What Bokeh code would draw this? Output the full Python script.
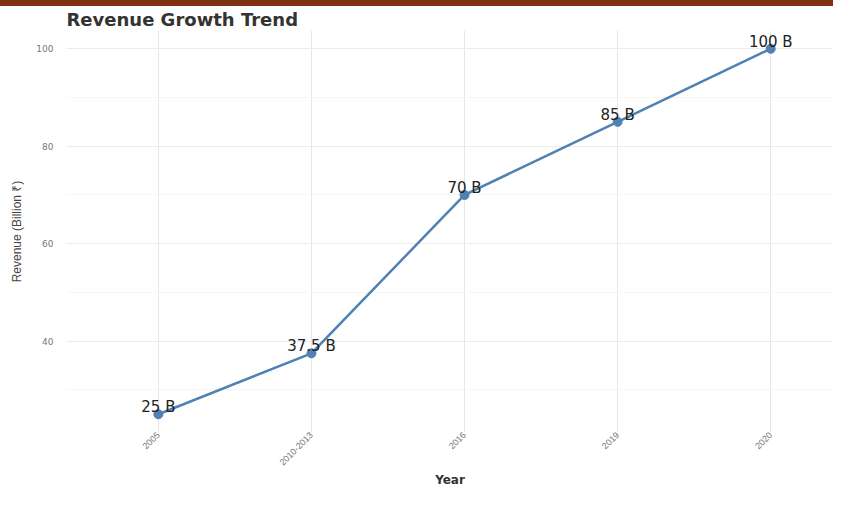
import math
from bokeh.plotting import figure
from bokeh.models import Range1d, FixedTicker, Div, ColumnDataSource
from bokeh.layouts import column
from bokeh.core.properties import value
from bokeh.embed import file_html
from bokeh.resources import INLINE

# ---- data ----
years = ["2005", "2010-2013", "2016", "2019", "2020"]
revenue = [25, 37.5, 70, 85, 100]
labels = ["25 B", "37.5 B", "70 B", "85 B", "100 B"]
y_major = [40, 60, 80, 100]
y_minor = [30, 50, 70, 90]

xs = list(range(len(years)))
src = ColumnDataSource(dict(x=xs, y=revenue, lab=labels))

FONT = "Liberation Sans"
WIDE = "DejaVu Sans"

p = figure(width=833, height=484, output_backend="svg", toolbar_location=None,
           x_range=Range1d(-0.6, 4.41), y_range=Range1d(21.25, 103.75),
           title="Revenue Growth Trend")
p.min_border_left = 66
p.min_border_right = 0
p.min_border_top = 20
p.min_border_bottom = 0
p.outline_line_color = None
p.background_fill_color = "white"
p.border_fill_color = "white"

p.title.text_font = WIDE
p.title.text_font_size = "18px"
p.title.text_font_style = "bold"
p.title.text_color = "#333333"
p.title.align = "left"
p.title.standoff = 1

# grids
p.xgrid.ticker = FixedTicker(ticks=xs)
p.xgrid.grid_line_color = "#e6e6e6"
p.xgrid.grid_line_width = 1
p.ygrid.ticker = FixedTicker(ticks=y_major, minor_ticks=y_minor)
p.ygrid.grid_line_color = "#ebebeb"
p.ygrid.minor_grid_line_color = "#f5f5f5"

# x axis
xa = p.xaxis[0]
xa.ticker = FixedTicker(ticks=xs)
xa.major_label_overrides = {i: y for i, y in enumerate(years)}
xa.major_label_orientation = math.pi / 4
xa.axis_line_color = None
xa.major_tick_line_color = None
xa.minor_tick_line_color = None
xa.major_tick_out = 0
xa.major_label_text_font = FONT
xa.major_label_text_font_size = "9px"
xa.major_label_text_color = "#777777"
xa.major_label_standoff = 1
xa.axis_label = "Year"
xa.axis_label_text_font = WIDE
xa.axis_label_text_font_size = "12px"
xa.axis_label_text_font_style = "bold"
xa.axis_label_text_color = "#333333"
xa.axis_label_text_align = "left"
xa.axis_label_standoff = 2

# y axis
ya = p.yaxis[0]
ya.ticker = FixedTicker(ticks=y_major, minor_ticks=y_minor)
ya.axis_line_color = None
ya.major_tick_line_color = None
ya.minor_tick_line_color = None
ya.major_tick_out = 0
ya.major_label_text_font = WIDE
ya.major_label_text_font_size = "9px"
ya.major_label_text_color = "#777777"
ya.major_label_standoff = 9
ya.axis_label = "Revenue (Billion \u20b9)"
ya.axis_label_text_font = FONT
ya.axis_label_text_font_size = "12px"
ya.axis_label_text_font_style = "normal"
ya.axis_label_text_color = "#444444"
ya.axis_label_standoff = 9

# marks
p.line("x", "y", source=src, line_color="#4f81b4", line_width=2.5)
p.scatter("x", "y", source=src, size=9, fill_color="#4f81b4", line_color="#4f81b4")
p.text("x", "y", text="lab", source=src, text_font=value(WIDE), text_font_size="15px",
       text_color="#222222", text_align="center", text_baseline="bottom", y_offset=2)

bar = Div(text="", width=833, height=6, margin=0,
          styles={"background-color": "#7c3211"})

layout = column(bar, p, spacing=0)

open("out.html", "w").write(file_html(layout, INLINE))
